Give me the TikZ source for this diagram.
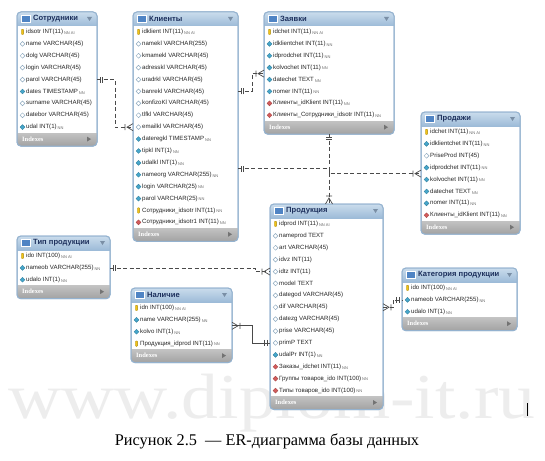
\documentclass[tikz,border=0pt]{standalone}
\usepackage{fontspec}
\setmainfont{Liberation Sans}
\newfontfamily\serifcap{Liberation Serif}
\usetikzlibrary{shapes.geometric,calc,positioning}

\definecolor{hdrtop}{HTML}{CADCEC}
\definecolor{hdrbot}{HTML}{9DBBD8}
\definecolor{brdcol}{HTML}{94B2CF}
\definecolor{ftrtop}{HTML}{C2C2C2}
\definecolor{ftrbot}{HTML}{A2A2A2}
\definecolor{titlecol}{HTML}{1C2F5C}
\definecolor{iconcol}{HTML}{4F84C4}
\definecolor{nncol}{HTML}{46A7CC}
\definecolor{fkcol}{HTML}{D45C5C}
\definecolor{keycol}{HTML}{F2C418}
\definecolor{opencol}{HTML}{8FAAC0}
\definecolor{linecol}{HTML}{4A4A4A}
\definecolor{arrgray}{HTML}{7A8FA6}

\tikzset{
  tblbox/.style={rectangle, draw=brdcol, line width=1pt, fill=white, rounded corners=4pt, inner sep=0pt, outer sep=0pt},
  tbltitle/.style={font=\fontsize{7.6}{8}\selectfont\bfseries, text=titlecol, inner sep=0pt},
  tblicon/.style={rectangle, draw=white, line width=0.6pt, fill=iconcol, minimum width=9pt, minimum height=7.5pt, inner sep=0pt},
  rowtext/.style={font=\fontsize{6.1}{7}\selectfont, text=black!85, inner sep=0pt},
  idxtext/.style={font=\serifcap\fontsize{6.5}{7}\selectfont\bfseries, text=white, inner sep=0pt},
  ikey/.style={rectangle, rounded corners=0.8pt, fill=keycol, draw=keycol!70!black, line width=0.3pt, minimum width=2.2pt, minimum height=5.5pt, inner sep=0pt},
  iopen/.style={diamond, draw=opencol, line width=0.5pt, fill=white, minimum size=5pt, inner sep=0pt},
  inn/.style={diamond, draw=nncol!80!black, line width=0.4pt, fill=nncol, minimum size=5pt, inner sep=0pt},
  ifk/.style={diamond, draw=fkcol!80!black, line width=0.4pt, fill=fkcol, minimum size=5pt, inner sep=0pt},
  relline/.style={draw=linecol, line width=0.7pt, dash pattern=on 4pt off 2.5pt},
  relsolid/.style={draw=linecol, line width=0.7pt},
  onemark/.pic={\draw[relsolid] (3pt,-3pt) -- (3pt,3pt) (5.5pt,-3pt) -- (5.5pt,3pt);},
  manymark/.pic={\draw[relsolid] (0pt,-3.5pt) -- (6pt,0pt) -- (0pt,3.5pt) (8pt,-3pt) -- (8pt,3pt);},
  caption/.style={font=\serifcap\fontsize{16.3}{18}\selectfont, inner sep=0pt},
  watermark/.style={font=\serifcap\fontsize{64}{66}\selectfont, text=black!7, inner sep=0pt}
}

\newcommand{\flg}[1]{\,\raisebox{-0.7pt}{\fontsize{4}{4.5}\selectfont\color{black!60}#1}}

% #1 name, #2 x, #3 y, #4 width, #5 rows, #6 title, #7 rows list
\newcommand{\ertable}[7]{%
  \pgfmathsetmacro{\tblh}{27+#5*11.9}
  \node[tblbox, minimum width=#4, minimum height=\tblh, anchor=north west] (#1) at (#2,#3) {};
  \begin{scope}
    \clip[rounded corners=4pt] (#1.north west) rectangle (#1.south east);
    \shade[top color=hdrtop, bottom color=hdrbot] (#1.north west) rectangle ($(#1.north east)+(0,14)$);
    \shade[top color=ftrtop, bottom color=ftrbot] ($(#1.south west)+(0,-13)$) rectangle (#1.south east);
  \end{scope}
  \draw[brdcol, line width=1pt, rounded corners=4pt] (#1.north west) rectangle (#1.south east);
  \node[tblicon] (#1-ic) at ($(#1.north west)+(9,7)$) {};
  \node[tbltitle, anchor=west] (#1-t) at ($(#1.north west)+(16,7)$) {#6};
  \fill[arrgray] ($(#1.north east)+(-10,5)$) -- ++(5,0) -- ++(-2.5,4) -- cycle;
  \node[idxtext, anchor=west] (#1-x) at ($(#1.south west)+(5,-7)$) {Indexes};
  \fill[black!55] ($(#1.south east)+(-10,-9.5)$) -- ++(0,5) -- ++(4,-2.5) -- cycle;
  \foreach [count=\i] \ic/\txt/\fl in {#7} {
    \node[\ic] (#1-i\i) at ($(#1.north west)+(5.5,14+\i*11.9-5.95)$) {};
    \node[rowtext, anchor=west] (#1-\i) at ($(#1.north west)+(9,14+\i*11.9-5.95)$) {\txt\flg{\fl}};
  }
}

\begin{document}
\begin{tikzpicture}[x=1pt, y=-1pt]
  \useasboundingbox[fill=white] (0,0) rectangle (545,460);

  % watermark
  \node[watermark, anchor=base] (wm) at (272,418) {\scalebox{1.15}[1]{www.diplom-it.ru}};

  % tables
  \ertable{sotr}{17}{12}{80}{9}{Сотрудники}{
    ikey/idsotr INT(11)/NN AI,
    iopen/name VARCHAR(45)/{},
    iopen/dolg VARCHAR(45)/{},
    iopen/login VARCHAR(45)/{},
    iopen/parol VARCHAR(45)/{},
    inn/dates TIMESTAMP/NN,
    iopen/surname VARCHAR(45)/{},
    iopen/datebor VARCHAR(45)/{},
    inn/udal INT(1)/NN}
  \ertable{kli}{133}{12}{105}{17}{Клиенты}{
    ikey/idklient INT(11)/NN AI,
    iopen/namekl VARCHAR(255)/{},
    iopen/kmamekl VARCHAR(45)/{},
    iopen/adresskl VARCHAR(45)/{},
    iopen/uradrkl VARCHAR(45)/{},
    iopen/banrekl VARCHAR(45)/{},
    iopen/konfizoKl VARCHAR(45)/{},
    iopen/tlfkl VARCHAR(45)/{},
    iopen/emailkl VARCHAR(45)/{},
    inn/dateregkl TIMESTAMP/NN,
    inn/tipkl INT(1)/NN,
    inn/udalkl INT(1)/NN,
    inn/nameorg VARCHAR(255)/NN,
    inn/login VARCHAR(25)/NN,
    inn/parol VARCHAR(25)/NN,
    ikey/Сотрудники\_idsotr INT(11)/NN,
    ifk/Сотрудники\_idsotr1 INT(11)/NN}
  \ertable{zay}{264}{12}{130}{8}{Заявки}{
    ikey/idchet INT(11)/NN AI,
    inn/idklientchet INT(11)/NN,
    inn/idprodchet INT(11)/NN,
    inn/kolvochet INT(11)/NN,
    inn/datechet TEXT/NN,
    inn/nomer INT(11)/NN,
    ifk/Клиенты\_idKlient INT(11)/NN,
    ifk/Клиенты\_Сотрудники\_idsotr INT(11)/NN}
  \ertable{prd}{421}{112}{99}{8}{Продажи}{
    ikey/idchet INT(11)/NN AI,
    inn/idklientchet INT(11)/NN,
    iopen/PriseProd INT(45)/{},
    inn/idprodchet INT(11)/NN,
    inn/kolvochet INT(11)/NN,
    inn/datechet TEXT/NN,
    inn/nomer INT(11)/NN,
    ifk/Клиенты\_idKlient INT(11)/NN}
  \ertable{tip}{17}{236}{93}{3}{Тип продукции}{
    ikey/ido INT(100)/NN AI,
    inn/nameob VARCHAR(255)/NN,
    inn/udalo INT(1)/NN}
  \ertable{nal}{131}{288}{101}{4}{Наличие}{
    ikey/idn INT(100)/NN AI,
    inn/name VARCHAR(255)/NN,
    inn/kolvo INT(1)/NN,
    ikey/Продукция\_idprod INT(11)/NN}
  \ertable{prod}{270}{204}{113}{15}{Продукция}{
    ikey/idprod INT(11)/NN AI,
    iopen/nameprod TEXT/{},
    iopen/art VARCHAR(45)/{},
    iopen/idvz INT(11)/{},
    iopen/idtz INT(11)/{},
    iopen/model TEXT/{},
    iopen/dategod VARCHAR(45)/{},
    iopen/dif VARCHAR(45)/{},
    iopen/datezg VARCHAR(45)/{},
    iopen/prise VARCHAR(45)/{},
    iopen/primP TEXT/{},
    inn/udalPr INT(1)/NN,
    ifk/Заказы\_idchet INT(11)/NN,
    ifk/Группы товаров\_ido INT(100)/NN,
    ifk/Типы товаров\_ido INT(100)/NN}
  \ertable{kat}{402}{268}{115}{3}{Категория продукции}{
    ikey/ido INT(100)/NN AI,
    inn/nameob VARCHAR(255)/NN,
    inn/udalo INT(1)/NN}

  % relations
  \coordinate (zaym) at ($(zay-i4)!.5!(zay-i5)$);
  \coordinate (klim) at ($(kli-i12)!.5!(kli-i13)$);
  \coordinate (prdm) at ($(prd-i4)!.5!(prd-i5)$);
  \coordinate (nalm) at ($(nal-i2)!.5!(nal-i3)$);

  \draw[relline] (sotr.east |- sotr-5) -- ++(18,0) |- (kli.west |- kli-9);
  \pic at (sotr.east |- sotr-5) {onemark};
  \pic[rotate=180] at (kli.west |- kli-9) {manymark};

  \draw[relline] (kli.east |- kli-6) -- ++(14,0) |- (zay.west |- zaym);
  \pic at (kli.east |- kli-6) {onemark};
  \pic[rotate=180] at (zay.west |- zaym) {manymark};

  \draw[relline] (kli.east |- klim) -- (zay.south |- klim) -- (zay.south |- prdm) -- (prd.west |- prdm);
  \pic at (kli.east |- klim) {onemark};
  \pic[rotate=180] at (prd.west |- prdm) {manymark};

  \draw[relline] (zay.south) -- (zay.south |- prod.north);
  \pic[rotate=-90] at (zay.south) {onemark};
  \pic[rotate=90] at (zay.south |- prod.north) {manymark};

  \draw[relline] (tip.east |- tip-2) -- ++(145,0) |- (prod.west |- prod-5);
  \pic at (tip.east |- tip-2) {onemark};
  \pic[rotate=180] at (prod.west |- prod-5) {manymark};

  \draw[relsolid] (nal.east |- nalm) -- ++(20,0) |- (prod.west |- prod-11);
  \pic at (nal.east |- nalm) {manymark};
  \pic[rotate=180] at (prod.west |- prod-11) {onemark};

  \draw[relline] (prod.east |- prod-8) -- ++(10,0) |- (kat.west |- kat-2);
  \pic at (prod.east |- prod-8) {manymark};
  \pic[rotate=180] at (kat.west |- kat-2) {onemark};

  % caption
  \node[caption, anchor=base] (cap) at (267,445) {Рисунок 2.5\ \ — ER-диаграмма базы данных};
  \draw[black, line width=0.6pt] (527,403) -- (527,416);
\end{tikzpicture}
\end{document}
